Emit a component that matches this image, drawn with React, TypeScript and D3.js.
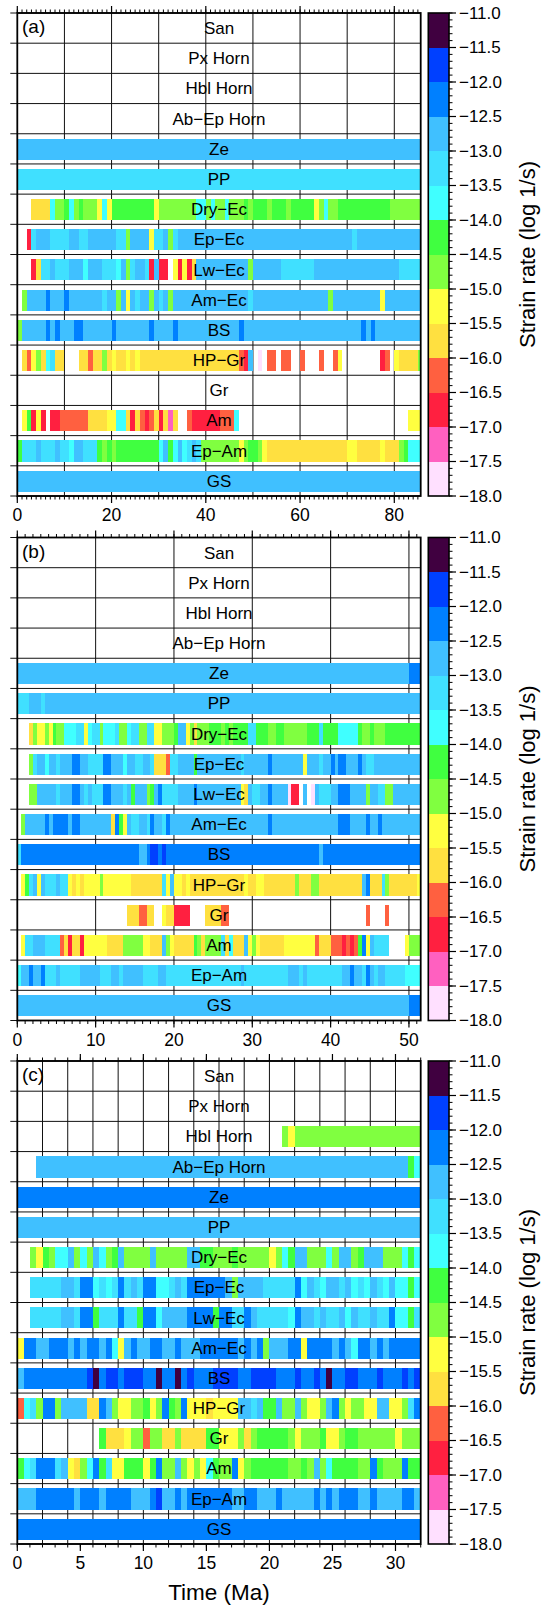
import React from 'react'
import * as d3 from 'd3'

// facies rows, top to bottom
const facies = ["San", "Px Horn", "Hbl Horn", "Ab−Ep Horn", "Ze", "PP", "Dry−Ec", "Ep−Ec", "Lw−Ec",
  "Am−Ec", "BS", "HP−Gr", "Gr", "Am", "Ep−Am", "GS"]

// colour scale of the strain rate (log 1/s)
const rateTicks = [-18.0, -17.5, -17.0, -16.5, -16.0, -15.5, -15.0, -14.5, -14.0, -13.5, -13.0, -12.5, -12.0, -11.5, -11.0]
const rateColors = ["#ffe0ff", "#ff60c0", "#ff2040", "#ff6040", "#ffe040", "#ffff40", "#80ff40",
  "#40ff40", "#40ffff", "#40e0ff", "#40c0ff", "#0080ff", "#0040ff", "#400040"]

// each char = one time bin, letter a..n = strain rate class (a = -18..-17.5 ... n = -11.5..-11), '.' = not present
const classCodes = "abcdefghijklmn"

// (a) bins of 1 Ma
const ratesA = [
  "",
  "",
  "",
  "",
  "kkkkkkkkkk kkkkkkkkkk kkkkkkkkkk kkkkkkkkkk kkkkkkkkkk kkkkkkkkkk kkkkkkkkkk kkkkkkkkkk kkkkkk",
  "jjjjjjjjjj jjjjjjjjjj jjjjjjjjjj jjjjjjjjjj jjjjjjjjjj jjjjjjjjjj jjjjjjjjjj jjjjjjjjjj jjjjjj",
  "...eeeeigg highgggfif hhhhhhhhhf ggggggggii giggiggghg hhhghhhghh hhhfgigghh hhhhhhhhhg gggggg",
  "..cjkkkjjj jkkjjkkkkk kjjgkkkkfj jkgjkkkkkk kkkkkkkkkk kkkkkkkkkk kkkkkkkkkk kjkkkkkkkk kkkkkk",
  "...cejjkjj jkkkikkkjj jikgjkkjck cc.fcfcekk kkkkkkkkkg kkkkkkjjjj jjjkkkkkkk kkkkkkkkkk kjjjjj",
  ".gkkkklkkk lkkkkkkkjk kgkfkjkkgk jkgkkkkkkk kkkkkkkkkj kkkkkkkkkk kkkkkkgkkk kkkkkkkfkk kkkkkk",
  "gkkkkklklk kkllkkkkkk lkkkkkkklk kkklkkkkkk kkkkkkklkk kkkkkkkkkk kkkkkkkkkk kkklklkkkk kkkkkk",
  ".edfgeijee ...eedeege feefefeeee eeeeeeeeee eeeeeeedck .a.dd.dd.. d...d..df. .......cd. feeeeg",
  "",
  ".fhcfc.ccd dddddeeeef fiiecedcde cebe..dccc cccdddi... .......... .......... .......... ...fff",
  "hjjjkjjjkj jikkjjjhgh ghhhhhhhhh ikhikijkjg gggggggfgh hgfeeeeeee eeeeeeeeee ffeeeeefee eghiii",
  "kkkkkkkkkk kkkkkkkkkk kkkkkkkkkk kkkkkkkkkk kkkkkkkkkk kkkkkkkkkk kkkkkkkkkk kkkkkkkkkk kkkkkk",
]

// (b) bins of 0.5 Ma
const ratesB = [
  "",
  "",
  "",
  "",
  "kkkkkkkkkk kkkkkkkkkk kkkkkkkkkk kkkkkkkkkk kkkkkkkkkk kkkkkkkkkk kkkkkkkkkk kkkkkkkkkk kkkkkkkkkk kkkkkkkkkk lll",
  "jjjkkkjkkk kkkkkkkkkk kkkkkkkkkk kkkkkkkkkk kkkkkkkkkk kkkkkkkkkk kkkkkkkkkk kkkkkkkkkk kkkkkkkkkk kkkkkkkkkk kkk",
  "...egffgfh ggiiijjfij jgiiijggij jggjjffggg hkkfgegggh hhghghhhhj jhhhgghhgg gggghhhjhh hhiiiiihgg hggghhhhhh hhh",
  "...gjkkikk jkkkllkkjj jjllkkkikk jjkkjeeedj jkkkkhkkkk kkkkkkkjkk kkkklkkkkk kkkfkkkjkk lkllkkklkj jkkkkkkkkk kkk",
  "...ggkkkkk jkkkllkjkj jjllkkkjkh kkkghkljjj jkkkklkkkk kkkkkkkfek jjkklkkkka cc.k.akjjj kklllkkkkg kkjjggkkkk kkk",
  ".gkkkkklkl lllkllkkkk kkkkelhfkj jkkjlkkjlk kkkkkkkkkk kkkkkkkkkk kkkklkkkkk kkkkkkkkkk kklllkkkkl kklkkkkkkk kkk",
  "jlllllllll llllllllll llllllllll lkklmmlmll llllllllll llllllllll llllllllll lllllllkll llllllllll llllllllll lll",
  ".fhjkfkjjj kjjfefefff fgfffffffe eeeeeeejfk ffefeeeeee eeeeeeeefe effeeeeeee egeeeggeee eeeeeeeekl eeejgeeeee eef",
  ".......... .......... ........ee eddee..fee cccc....ee eedd...... .......... .......... .........d ....d..... ...",
  ".fjjkkkjjj jdeceecfff fffeeeeggg ggffeeekgf eeeeehgegg ggjeieeekf gfeeeeeeff ffffffdeee dddcdcdhlf kjjjj....f ggg",
  "ikklkkljjj kjjjjjkkkk kjjjkkjkkk kkjjjjkkjj jjjjjjjjjj jjjjjjjkjj jjjjjjjjjk kkjkjjjjjj jjjkklkkjl kjkkjjjjji iii",
  "kkkkkkkkkk kkkkkkkkkk kkkkkkkkkk kkkkkkkkkk kkkkkkkkkk kkkkkkkkkk kkkkkkkkkk kkkkkkkkkk kkkkkkkkkk kkkkkkkkkk lll",
]

// (c) bins of 0.5 Ma
const ratesC = [
  "",
  "",
  ".......... .......... .......... .......... ..gfgggggg gggggggggg gggg",
  "...kkkkkkk kkkkkkkkkk kkkkkkkkkk kkkkkkkkkk kkkkkkkkkk kkkkkkkkkk kkhi",
  "llllllllll llllllllll llllllllll llllllllll llllllllll llllllllll llll",
  "kkkkkkkkkk kkkkkkkkkk kkkkkkkkkk kkkkkkkkkk kkkkkkkkkk kkkkkkkkkk kkkk",
  "..gfhgiikg igkighkggg gkgggggkkh hggghggggg fgihkkgggi gkkghkkkgg gihi",
  "..jjjjjkkj llijijljkj lliijkjlll lllkgkkkkj jjjjlikjik kjkijikjik iihi",
  "..jjjjjkkj llhjjjljjh llikkkklll lhlljjlkjj jjjilkkjkj jkikjjkjjl iihj",
  "fllkklllkl kllklifklk kllkklkkkl lllllklklg kkkllfllll klkillklkl llll",
  "klllllllll lmnlmmlmmm llnllnlmll lmmmmllmmm mlllmllmln llmmlllmll lmlm",
  "dijgllgkkk keelkgffgg hfglhglfff effffkkjkh hkggkgffgk lgfggffkkf fgjl",
  ".......... ...heeefgg dggeegeeee hhfffgeghh hhhgfggghf fghhgggggg fggg",
  "hijllljkfe gilhjffhhh fhlggkgfgf ihgglfghhh hhhgghgkgi hhhhgglhgg glhh",
  "kkkllllllk lllkllllkk klmkklklll llllkkllkk klkkkkklkl klllkklkkk kllk",
  "llllllllll llllllllll llllllllll llllllllll llllllllll llllllllll llll",
]

const panels = [
  { tag: "(a)", rows: ratesA, bin: 1, tMax: 85.6, major: 20, grid: 10 },
  { tag: "(b)", rows: ratesB, bin: 0.5, tMax: 51.5, major: 10, grid: 10 },
  { tag: "(c)", rows: ratesC, bin: 0.5, tMax: 32, major: 5, grid: 2 },
]

const W = 542, H = 1607
const plotL = 17.3, plotR = 420.7, panelH = 483
const panelTops = [13, 537.5, 1061]
const cbL = 428.3, cbR = 449
const font = "'Liberation Sans', Arial, Helvetica, sans-serif"

const color = d3.scaleThreshold<number, string>()
  .domain(rateTicks.slice(1, -1))
  .range(rateColors)

function rateOf(c: string) {
  return -18 + 0.25 + 0.5 * classCodes.indexOf(c)
}

function decodeRow(s: string, bin: number) {
  const chars = s.replace(/ /g, "")
  const runs: { t0: number, t1: number, rate: number }[] = []
  let i = 0
  while (i < chars.length) {
    const c = chars[i]
    let j = i
    while (j < chars.length && chars[j] === c) j++
    if (c !== ".") runs.push({ t0: i * bin, t1: j * bin, rate: rateOf(c) })
    i = j
  }
  return runs
}

function Panel({ p, top }: { p: typeof panels[0], top: number }) {
  const x = d3.scaleLinear().domain([0, p.tMax]).range([plotL, plotR])
  const y = d3.scaleBand().domain(facies).range([top, top + panelH])
  const rowH = y.step()
  const bottom = top + panelH
  const minor = d3.range(0, Math.floor(p.tMax) + 1)
  const major = d3.range(0, p.tMax + 0.001, p.major)
  const grid = d3.range(p.grid, p.tMax, p.grid)
  const cy = d3.scaleLinear().domain([-18, -11]).range([bottom, top])
  const cbMinor = d3.range(0, 71).map(i => -18 + i * 0.1)

  return (
    <g>
      {/* vertical grid */}
      {grid.map(t => (
        <line key={"g" + t} x1={x(t)} x2={x(t)} y1={top} y2={bottom} stroke="#111" strokeWidth={1} />
      ))}
      {/* bars */}
      {facies.map((f, r) => decodeRow(p.rows[r], p.bin).map((s, k) => (
        <rect key={f + k} x={x(s.t0)} width={x(Math.min(s.t1, p.tMax)) - x(s.t0)}
          y={(y(f) as number) + rowH * 0.16} height={rowH * 0.7}
          fill={color(s.rate)} shapeRendering="crispEdges" />
      )))}
      {/* row lines and left ticks */}
      {d3.range(0, facies.length + 1).map(i => (
        <line key={"r" + i} x1={plotL - 7} x2={plotR} y1={top + i * rowH} y2={top + i * rowH}
          stroke="#111" strokeWidth={1} />
      ))}
      {/* row labels */}
      {facies.map(f => (
        <text key={"l" + f} x={(plotL + plotR) / 2} y={(y(f) as number) + rowH / 2} dy="0.35em"
          textAnchor="middle" fontSize={17} fontFamily={font} fill="#000">{f}</text>
      ))}
      {/* top / bottom ticks */}
      {minor.map(t => (
        <g key={"m" + t}>
          <line x1={x(t)} x2={x(t)} y1={top} y2={top - 3.5} stroke="#000" strokeWidth={1} />
          <line x1={x(t)} x2={x(t)} y1={bottom} y2={bottom + 3.5} stroke="#000" strokeWidth={1} />
        </g>
      ))}
      {major.map(t => (
        <g key={"M" + t}>
          <line x1={x(t)} x2={x(t)} y1={top} y2={top - 7} stroke="#000" strokeWidth={1.2} />
          <line x1={x(t)} x2={x(t)} y1={bottom} y2={bottom + 7} stroke="#000" strokeWidth={1.2} />
          <text x={x(t)} y={bottom + 25} textAnchor="middle" fontSize={17.5} fontFamily={font}>{t}</text>
        </g>
      ))}
      {/* frame */}
      <rect x={plotL} y={top} width={plotR - plotL} height={panelH} fill="none" stroke="#000" strokeWidth={1.8} />
      <text x={22} y={top + 20} fontSize={19} fontFamily={font}>{p.tag}</text>

      {/* colour bar */}
      {rateColors.map((c, i) => (
        <rect key={"c" + i} x={cbL} width={cbR - cbL} y={cy(rateTicks[i + 1])}
          height={cy(rateTicks[i]) - cy(rateTicks[i + 1])} fill={c} shapeRendering="crispEdges" />
      ))}
      <rect x={cbL} y={top} width={cbR - cbL} height={panelH} fill="none" stroke="#000" strokeWidth={1.6} />
      {cbMinor.map((v, i) => (
        <line key={"cm" + i} x1={cbR} x2={cbR + 3.5} y1={cy(v)} y2={cy(v)} stroke="#000" strokeWidth={1} />
      ))}
      {rateTicks.map(v => (
        <g key={"ct" + v}>
          <line x1={cbR} x2={cbR + 7} y1={cy(v)} y2={cy(v)} stroke="#000" strokeWidth={1.2} />
          <text x={cbR + 10} y={cy(v)} dy="0.35em" fontSize={17} fontFamily={font}>
            {d3.format(".1f")(v).replace("-", "−")}
          </text>
        </g>
      ))}
      <text transform={`translate(527,${top + panelH / 2}) rotate(-90)`} textAnchor="middle" dy="0.35em"
        fontSize={22} fontFamily={font}>Strain rate (log 1/s)</text>
    </g>
  )
}

export default function App() {
  return (
    <svg width={W} height={H} style={{ position: "absolute", left: 0, top: 0, background: "#fff" }}>
      <rect width={W} height={H} fill="#fff" />
      {panels.map((p, i) => <Panel key={p.tag} p={p} top={panelTops[i]} />)}
      <text x={(plotL + plotR) / 2} y={1600} textAnchor="middle" fontSize={22.5} fontFamily={font}>Time (Ma)</text>
    </svg>
  )
}
